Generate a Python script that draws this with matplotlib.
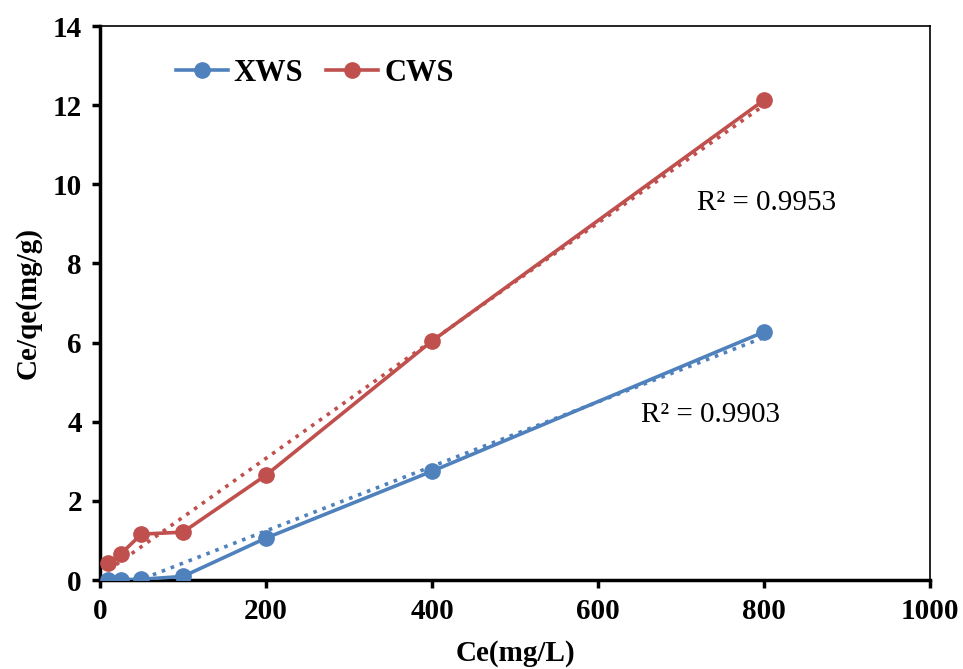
import numpy as np
import matplotlib.pyplot as plt

plt.rcParams['font.family'] = ['Liberation Serif', 'DejaVu Serif']

# Ce (mg/L) and Ce/qe (mg/g)
ce = [10, 25, 50, 100, 200, 400, 800]
xws = [0.0, 0.01, 0.02, 0.09, 1.06, 2.75, 6.27]
cws = [0.43, 0.66, 1.16, 1.21, 2.65, 6.04, 12.13]
r2_labels = ['R² = 0.9903', 'R² = 0.9953']

blue = '#4F81BD'
red = '#C0504D'

fig = plt.figure(figsize=(9.63, 6.69), dpi=100)
ax = fig.add_axes([0.1038, 0.133, 0.862, 0.828])

ax.plot(ce, xws, '-o', color=blue, lw=2.6, ms=11, label='XWS', zorder=3)
ax.plot(ce, cws, '-o', color=red, lw=2.6, ms=11, label='CWS', zorder=3)

# linear trendlines
xx = np.array([min(ce), max(ce)])
for y, c in [(xws, blue), (cws, red)]:
    f = np.poly1d(np.polyfit(ce, y, 1))
    ax.plot(xx, f(xx), ':', color=c, lw=2.6, zorder=2)

ax.text(652, 4.17, r2_labels[0], fontsize=21, va='center')
ax.text(719, 9.53, r2_labels[1], fontsize=21, va='center')

ax.set_xlim(0, 1000)
ax.set_ylim(0, 14)
ax.set_xticks(range(0, 1001, 200))
ax.set_yticks(range(0, 15, 2))
for lab in ax.get_xticklabels() + ax.get_yticklabels():
    lab.set_fontweight('bold')
    lab.set_fontsize(21)

ax.spines['left'].set_linewidth(2.5)
ax.spines['bottom'].set_linewidth(2.5)
ax.spines['top'].set_linewidth(1.2)
ax.spines['right'].set_linewidth(1.2)
ax.tick_params(axis='both', direction='out', length=6, width=2.5, pad=7)

ax.set_xlabel('Ce(mg/L)', fontsize=21, fontweight='bold', labelpad=11)
ax.set_ylabel('Ce/qe(mg/g)', fontsize=21, fontweight='bold', labelpad=8)

leg = ax.legend(loc='upper left', bbox_to_anchor=(0.058, 0.99), ncol=2,
                frameon=False, prop={'weight': 'bold', 'size': 22},
                handlelength=1.7, handletextpad=0.2, columnspacing=0.75)

fig.savefig('out.png', dpi=100)
